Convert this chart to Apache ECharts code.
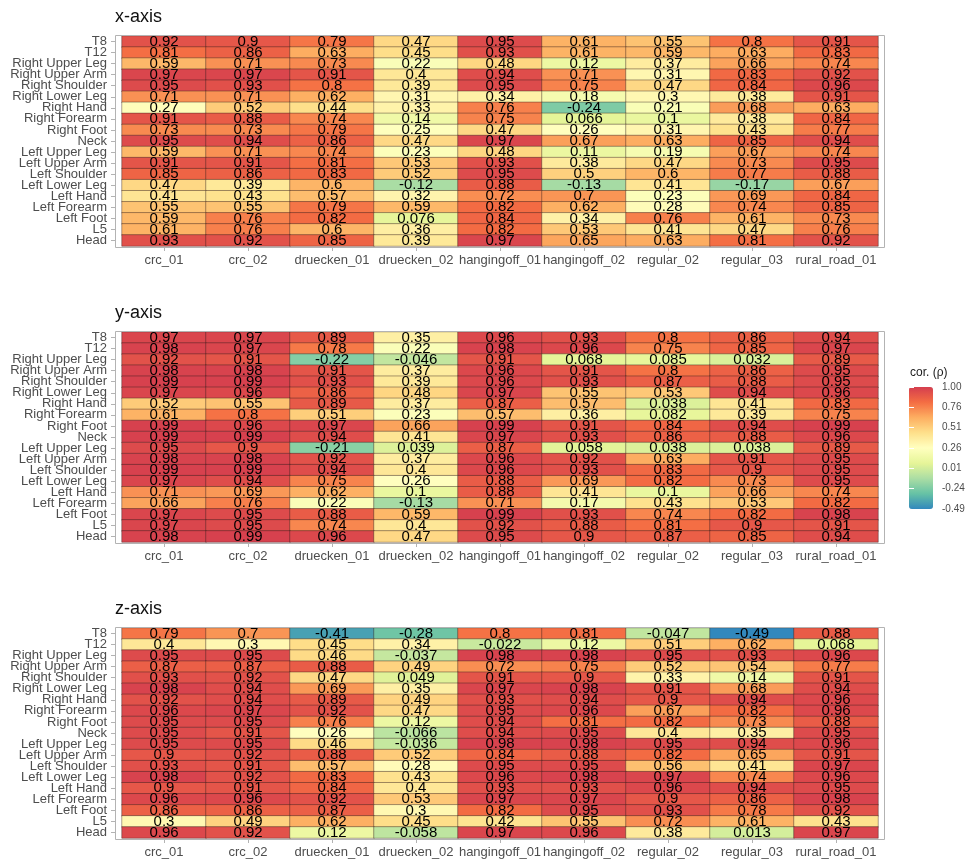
<!DOCTYPE html>
<html>
<head>
<meta charset="utf-8">
<script src="https://cdn.jsdelivr.net/npm/echarts@6/dist/echarts.min.js"></script>
<style>
  html, body { margin: 0; padding: 0; background: #fff; }
  #chart { width: 972px; height: 859px; }
</style>
</head>
<body>
<div id="chart"></div>
<script>
// Recording sessions (columns)
const conditions = ['crc_01', 'crc_02', 'druecken_01', 'druecken_02', 'hangingoff_01',
  'hangingoff_02', 'regular_02', 'regular_03', 'rural_road_01'];

// Body segments, listed top to bottom
const segments = ['T8', 'T12', 'Right Upper Leg', 'Right Upper Arm', 'Right Shoulder',
  'Right Lower Leg', 'Right Hand', 'Right Forearm', 'Right Foot', 'Neck', 'Left Upper Leg',
  'Left Upper Arm', 'Left Shoulder', 'Left Lower Leg', 'Left Hand', 'Left Forearm',
  'Left Foot', 'L5', 'Head'];

// Correlation per segment (row) and session (column), x axis
const corrX = [
  [0.92, 0.9, 0.79, 0.47, 0.95, 0.61, 0.55, 0.8, 0.91],
  [0.81, 0.86, 0.63, 0.45, 0.93, 0.61, 0.59, 0.63, 0.83],
  [0.59, 0.71, 0.73, 0.22, 0.48, 0.12, 0.37, 0.66, 0.74],
  [0.97, 0.97, 0.91, 0.4, 0.94, 0.71, 0.31, 0.83, 0.92],
  [0.95, 0.93, 0.8, 0.39, 0.95, 0.75, 0.47, 0.84, 0.96],
  [0.71, 0.71, 0.62, 0.31, 0.34, 0.18, 0.3, 0.38, 0.91],
  [0.27, 0.52, 0.44, 0.33, 0.76, -0.24, 0.21, 0.68, 0.63],
  [0.91, 0.88, 0.74, 0.14, 0.75, 0.066, 0.1, 0.38, 0.84],
  [0.73, 0.73, 0.79, 0.25, 0.47, 0.26, 0.31, 0.43, 0.77],
  [0.95, 0.94, 0.86, 0.47, 0.97, 0.67, 0.63, 0.85, 0.94],
  [0.59, 0.71, 0.74, 0.23, 0.48, 0.11, 0.19, 0.67, 0.74],
  [0.91, 0.91, 0.81, 0.53, 0.93, 0.38, 0.47, 0.73, 0.95],
  [0.85, 0.86, 0.83, 0.52, 0.95, 0.5, 0.6, 0.77, 0.88],
  [0.47, 0.39, 0.6, -0.12, 0.88, -0.13, 0.41, -0.17, 0.67],
  [0.41, 0.43, 0.57, 0.32, 0.72, 0.7, 0.23, 0.69, 0.84],
  [0.55, 0.55, 0.79, 0.59, 0.82, 0.62, 0.28, 0.74, 0.85],
  [0.59, 0.76, 0.82, 0.076, 0.84, 0.34, 0.76, 0.61, 0.73],
  [0.61, 0.76, 0.6, 0.36, 0.82, 0.53, 0.41, 0.47, 0.76],
  [0.93, 0.92, 0.85, 0.39, 0.97, 0.65, 0.63, 0.81, 0.92]
];

// y axis
const corrY = [
  [0.97, 0.97, 0.89, 0.35, 0.96, 0.93, 0.8, 0.86, 0.94],
  [0.98, 0.97, 0.78, 0.22, 0.98, 0.96, 0.75, 0.85, 0.97],
  [0.92, 0.91, -0.22, -0.046, 0.91, 0.068, 0.085, 0.032, 0.89],
  [0.98, 0.98, 0.91, 0.37, 0.96, 0.91, 0.8, 0.86, 0.95],
  [0.99, 0.99, 0.93, 0.39, 0.96, 0.93, 0.87, 0.88, 0.95],
  [0.97, 0.96, 0.86, 0.48, 0.97, 0.55, 0.53, 0.94, 0.96],
  [0.52, 0.55, 0.89, 0.37, 0.87, 0.57, 0.038, 0.41, 0.83],
  [0.61, 0.8, 0.51, 0.23, 0.57, 0.36, 0.082, 0.39, 0.75],
  [0.99, 0.96, 0.97, 0.66, 0.99, 0.91, 0.84, 0.94, 0.99],
  [0.99, 0.99, 0.94, 0.41, 0.97, 0.93, 0.86, 0.88, 0.96],
  [0.95, 0.9, -0.21, 0.039, 0.87, 0.058, 0.038, 0.038, 0.89],
  [0.98, 0.98, 0.92, 0.37, 0.96, 0.92, 0.63, 0.91, 0.95],
  [0.99, 0.99, 0.94, 0.4, 0.96, 0.93, 0.83, 0.9, 0.95],
  [0.97, 0.94, 0.75, 0.26, 0.88, 0.69, 0.82, 0.73, 0.95],
  [0.71, 0.69, 0.62, 0.1, 0.88, 0.41, 0.1, 0.66, 0.74],
  [0.66, 0.76, 0.22, -0.13, 0.71, 0.17, 0.43, 0.53, 0.82],
  [0.97, 0.95, 0.88, 0.59, 0.99, 0.93, 0.74, 0.82, 0.98],
  [0.97, 0.95, 0.74, 0.4, 0.92, 0.88, 0.81, 0.9, 0.91],
  [0.98, 0.99, 0.96, 0.47, 0.95, 0.9, 0.87, 0.85, 0.94]
];

// z axis
const corrZ = [
  [0.79, 0.7, -0.41, -0.28, 0.8, 0.81, -0.047, -0.49, 0.88],
  [0.4, 0.3, 0.45, 0.34, -0.022, 0.12, 0.51, 0.62, 0.068],
  [0.95, 0.95, 0.46, -0.037, 0.98, 0.98, 0.95, 0.93, 0.96],
  [0.87, 0.87, 0.88, 0.49, 0.72, 0.75, 0.52, 0.54, 0.77],
  [0.93, 0.92, 0.47, 0.049, 0.91, 0.9, 0.33, 0.14, 0.91],
  [0.98, 0.94, 0.69, 0.35, 0.97, 0.98, 0.91, 0.68, 0.94],
  [0.92, 0.94, 0.89, 0.49, 0.93, 0.94, 0.9, 0.94, 0.96],
  [0.96, 0.97, 0.92, 0.47, 0.95, 0.96, 0.67, 0.82, 0.96],
  [0.95, 0.95, 0.76, 0.12, 0.94, 0.81, 0.82, 0.73, 0.88],
  [0.95, 0.91, 0.26, -0.066, 0.94, 0.95, 0.4, 0.35, 0.95],
  [0.95, 0.95, 0.46, -0.036, 0.98, 0.98, 0.95, 0.94, 0.96],
  [0.9, 0.92, 0.88, 0.52, 0.84, 0.88, 0.82, 0.65, 0.91],
  [0.93, 0.91, 0.57, 0.28, 0.95, 0.95, 0.56, 0.41, 0.97],
  [0.98, 0.92, 0.83, 0.43, 0.96, 0.98, 0.97, 0.74, 0.96],
  [0.9, 0.91, 0.84, 0.4, 0.93, 0.93, 0.96, 0.94, 0.95],
  [0.96, 0.96, 0.92, 0.53, 0.97, 0.97, 0.9, 0.86, 0.98],
  [0.86, 0.86, 0.87, 0.3, 0.82, 0.95, 0.93, 0.78, 0.92],
  [0.3, 0.49, 0.62, 0.45, 0.42, 0.55, 0.72, 0.61, 0.43],
  [0.96, 0.92, 0.12, -0.058, 0.97, 0.96, 0.38, 0.013, 0.97]
];

const panelTitles = ['x-axis', 'y-axis', 'z-axis'];
const panelData = [corrX, corrY, corrZ];

// Colour bar
const legendTitle = 'cor. (\u03c1)';
const legendBreaks = ['-0.49', '-0.24', '0.01', '0.26', '0.51', '0.76', '1.00'];
const corMin = -0.49;
const corMax = 1.00;
// Spectral (9), low -> high
const spectral = ['#3288bd', '#66c2a5', '#abdda4', '#e6f598', '#ffffbf',
  '#fee08b', '#fdae61', '#f46d43', '#d53e4f'];

// ---- layout ----
const FONT = 'Liberation Sans, Arial, Helvetica, sans-serif';
const panelTops = [35, 331, 627];
const panelH = 212;
const panelL = 115, panelR = 884;
const cellL = 122, cellR = 878;

const grids = [], xAxes = [], yAxes = [], series = [], titles = [], graphics = [];

panelData.forEach((rows, p) => {
  const top = panelTops[p];
  grids.push({ left: cellL, width: cellR - cellL, top: top + 1, height: panelH - 2 });
  xAxes.push({
    type: 'category', gridIndex: p, data: conditions, position: 'bottom', offset: 1,
    axisLine: { show: false },
    axisTick: { show: true, length: 4, alignWithLabel: true, lineStyle: { color: '#b3b3b3', width: 1 } },
    axisLabel: { interval: 0, fontSize: 13, color: '#4d4d4d', margin: 7, fontFamily: FONT },
    splitLine: { show: false }
  });
  yAxes.push({
    type: 'category', gridIndex: p, data: segments, inverse: true, position: 'left', offset: 7,
    axisLine: { show: false },
    axisTick: { show: true, length: 4, alignWithLabel: true, lineStyle: { color: '#b3b3b3', width: 1 } },
    axisLabel: { interval: 0, fontSize: 13, color: '#4d4d4d', margin: 8, fontFamily: FONT },
    splitLine: { show: false }
  });
  const data = [];
  rows.forEach((row, r) => row.forEach((v, c) => data.push([c, r, v])));
  series.push({
    type: 'heatmap', xAxisIndex: p, yAxisIndex: p, data: data,
    itemStyle: { borderColor: 'rgba(50,30,30,0.7)', borderWidth: 0.6 },
    label: {
      show: true, fontSize: 15, color: '#000', fontFamily: FONT,
      formatter: (d) => String(d.value[2])
    },
    emphasis: { disabled: true }
  });
  titles.push({
    text: panelTitles[p], left: panelL, top: top - 27, padding: 0,
    textStyle: { fontSize: 18, fontWeight: 'normal', color: '#111', fontFamily: FONT }
  });
  graphics.push({
    type: 'rect', z: 20,
    shape: { x: panelL + 0.5, y: top + 0.5, width: panelR - panelL, height: panelH },
    style: { fill: 'none', stroke: '#b3b3b3', lineWidth: 1 }
  });
});

// Colour-bar labels and ticks
const barLeft = 909, barTop = 387, barW = 24, barH = 122;
grids.push({ left: barLeft, top: barTop, width: barW, height: barH });
xAxes.push({ type: 'value', gridIndex: 3, show: false });
const barAxis = (pos, showLabel) => ({
  type: 'category', gridIndex: 3, data: legendBreaks, boundaryGap: false, position: pos, z: 10,
  axisLine: { show: false },
  axisTick: { show: true, inside: true, length: 5, lineStyle: { color: '#ffffff', width: 1 } },
  axisLabel: { show: showLabel, fontSize: 10, color: '#4d4d4d', margin: 9, fontFamily: FONT },
  splitLine: { show: false }
});
yAxes.push(barAxis('right', true));
yAxes.push(barAxis('left', false));

graphics.push({
  type: 'text', left: barLeft + 1, top: 367,
  style: { text: legendTitle, fontSize: 12, fill: '#1a1a1a', font: '12px ' + FONT }
});

const chart = echarts.init(document.getElementById('chart'), null, { renderer: 'canvas' });
chart.setOption({
  animation: false,
  backgroundColor: '#ffffff',
  textStyle: { fontFamily: FONT },
  title: titles,
  grid: grids,
  xAxis: xAxes,
  yAxis: yAxes,
  visualMap: {
    type: 'continuous', min: corMin, max: corMax, seriesIndex: [0, 1, 2],
    calculable: false, hoverLink: false, orient: 'vertical',
    left: barLeft, top: barTop, itemWidth: barW, itemHeight: barH, padding: 0,
    inRange: { color: spectral }
  },
  graphic: graphics,
  series: series
});
</script>
</body>
</html>
